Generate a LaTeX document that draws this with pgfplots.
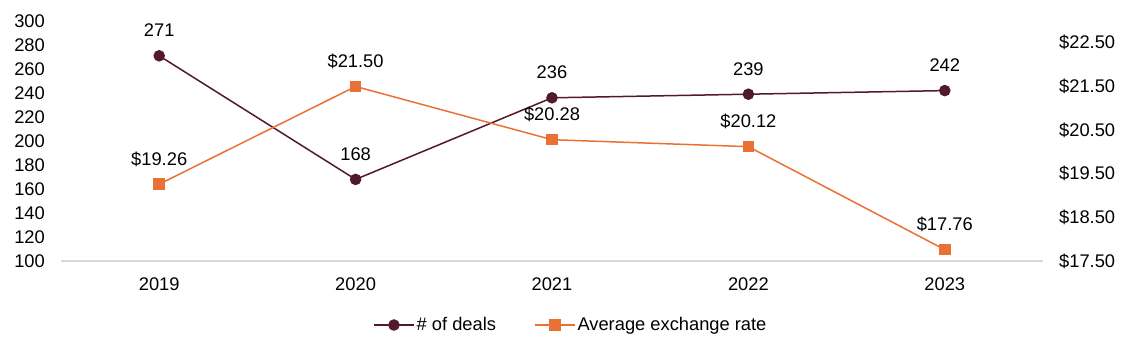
\documentclass[border=0pt]{standalone}
\usepackage{pgfplots}
\pgfplotsset{compat=1.18}
\usepackage{fontspec}
\setmainfont{Liberation Sans}
\definecolor{deal}{HTML}{511929}
\definecolor{fx}{HTML}{EA7136}
\pgfplotsset{
  base/.style={scale only axis, width=982pt, height=240pt, xmin=-0.5, xmax=4.5,
    /pgf/number format/assume math mode=true, major tick length=0pt,
    tick style={draw=none}, clip=false},
  mylegend/.style={legend image code/.code={\draw[mark repeat=2,mark phase=2,##1] plot coordinates {(0pt,0pt)(20pt,0pt)(40pt,0pt)};}},
}
\begin{document}
\fontsize{18.3pt}{21pt}\selectfont
\begin{tikzpicture}
\useasboundingbox (-61pt,-93pt) rectangle (1074pt,261pt);
\begin{axis}[base, ymin=100, ymax=300, ytick={100,120,140,160,180,200,220,240,260,280,300},
  xtick={0,1,2,3,4}, xticklabels={2019,2020,2021,2022,2023},
  axis x line*=bottom, axis y line*=left, y axis line style={draw=none},
  x axis line style={draw=black!15, line width=1.2pt},
  yticklabel style={anchor=east, inner sep=0pt, xshift=-16pt},
  xticklabel style={anchor=north, inner sep=0pt, yshift=-17pt}]
\addplot[deal, line width=1.5pt, mark=*, mark size=5pt, nodes near coords,
  every node near coord/.style={anchor=base, inner sep=0pt, yshift=19pt, text=black}]
  coordinates {(0,271)(1,168)(2,236)(3,239)(4,242)};
\end{axis}
\begin{axis}[base, ymin=17.5, ymax=23, ytick={17.5,18.5,19.5,20.5,21.5,22.5},
  axis x line=none, axis y line*=right, y axis line style={draw=none},
  yticklabel={\$\pgfmathprintnumber[fixed,fixed zerofill,precision=2]{\tick}},
  yticklabel style={anchor=west, inner sep=0pt, xshift=16pt},
  legend style={at={(0.3177,-0.2667)}, anchor=west, draw=none, legend columns=2,
    inner sep=0pt, /tikz/every even column/.append style={column sep=36pt}}]
\addlegendimage{deal, line width=1.5pt, mark=*, mark size=5pt, mylegend}
\addlegendentry{\# of deals}
\addplot[fx, line width=1.5pt, mark=square*, mark size=5pt, mylegend,
  nodes near coords={\$\pgfmathprintnumber[fixed,fixed zerofill,precision=2]{\pgfplotspointmeta}},
  every node near coord/.style={anchor=base, inner sep=0pt, yshift=19pt, text=black}]
  coordinates {(0,19.26)(1,21.50)(2,20.28)(3,20.12)(4,17.76)};
\addlegendentry{Average exchange rate}
\end{axis}
\end{tikzpicture}
\end{document}
